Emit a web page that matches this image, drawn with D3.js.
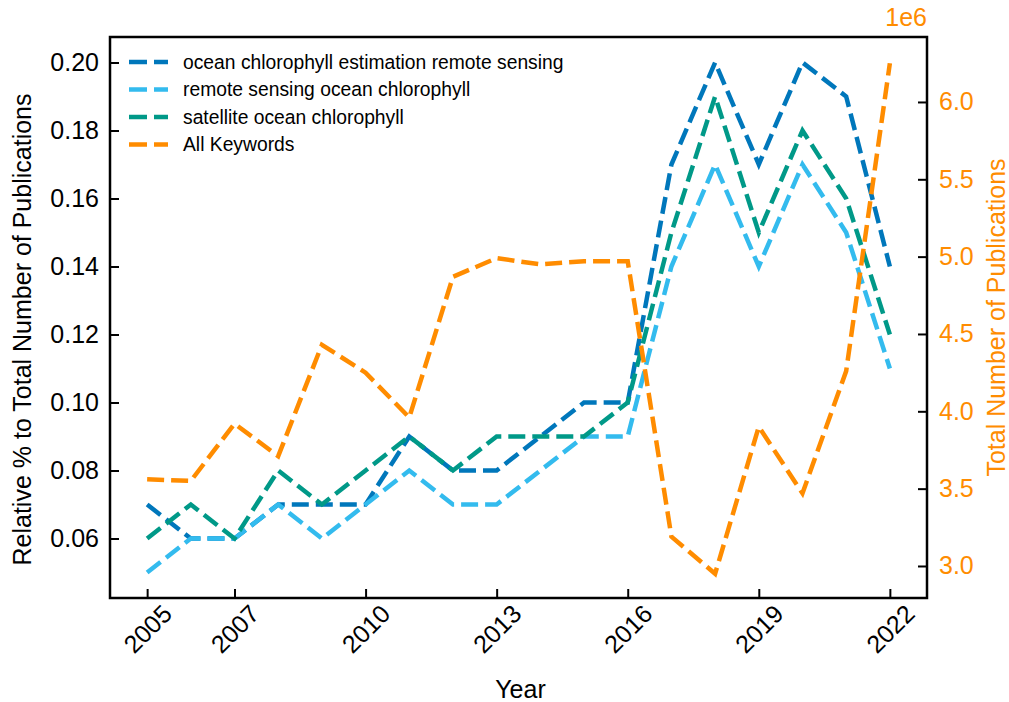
<!DOCTYPE html>
<html><head><meta charset="utf-8">
<script src="https://cdn.jsdelivr.net/npm/d3@7"></script>
<style>body{margin:0;background:#fff}svg{display:block}text{font-family:"Liberation Sans",Arial,sans-serif}</style>
</head><body><svg id="c" width="1009" height="702"></svg>
<script>
const years = [2005,2006,2007,2008,2009,2010,2011,2012,2013,2014,2015,2016,2017,2018,2019,2020,2021,2022];
const oceanChlEstRS = [0.07,0.06,0.06,0.07,0.07,0.07,0.09,0.08,0.08,0.09,0.10,0.10,0.17,0.20,0.17,0.20,0.19,0.14];
const rsOceanChl   = [0.05,0.06,0.06,0.07,0.06,0.07,0.08,0.07,0.07,0.08,0.09,0.09,0.14,0.17,0.14,0.17,0.15,0.11];
const satOceanChl  = [0.06,0.07,0.06,0.08,0.07,0.08,0.09,0.08,0.09,0.09,0.09,0.10,0.15,0.19,0.15,0.18,0.16,0.12];
const allKeywords  = [3.56,3.55,3.92,3.71,4.43,4.25,3.96,4.87,4.99,4.95,4.97,4.97,3.19,2.95,3.90,3.47,4.26,6.25]; // millions
const seriesNames = ["ocean chlorophyll estimation remote sensing","remote sensing ocean chlorophyll","satellite ocean chlorophyll","All Keywords"];
const colors = ["#0077BB","#33BBEE","#009988","#FF8C00"];
const xTicks = [2005,2007,2010,2013,2016,2019,2022];
const yLeftTicks = [0.06,0.08,0.10,0.12,0.14,0.16,0.18,0.20];
const yRightTicks = [3.0,3.5,4.0,4.5,5.0,5.5,6.0];

const L=110,R=927,T=37,B=598;
const svg=d3.select("#c");
const x=d3.scaleLinear().domain([2004.15,2022.85]).range([L,R]);
const yL=d3.scaleLinear().domain([0.0425,0.2075]).range([B,T]);
const yR=d3.scaleLinear().domain([2.793,6.42]).range([B,T]);

const dash="17,7", lw=4.5;
const lineL=d3.line().x((d,i)=>x(years[i])).y(d=>yL(d));
const lineR=d3.line().x((d,i)=>x(years[i])).y(d=>yR(d));
[oceanChlEstRS,rsOceanChl,satOceanChl].forEach((s,k)=>{
  svg.append("path").attr("d",lineL(s)).attr("fill","none").attr("stroke",colors[k])
    .attr("stroke-width",lw).attr("stroke-dasharray",dash);
});
svg.append("path").attr("d",lineR(allKeywords)).attr("fill","none").attr("stroke",colors[3])
  .attr("stroke-width",lw).attr("stroke-dasharray",dash);

// frame
svg.append("rect").attr("x",L).attr("y",T).attr("width",R-L).attr("height",B-T)
  .attr("fill","none").attr("stroke","#000").attr("stroke-width",2.5);

// axes (ticks inward)
const fs=25;
const gl=svg.append("g").attr("transform",`translate(${L},0)`)
  .call(d3.axisRight(yL).tickValues(yLeftTicks).tickFormat(d3.format(".2f")).tickSize(9).tickPadding(0));
gl.select(".domain").remove();
gl.selectAll(".tick line").attr("stroke","#000").attr("stroke-width",2);
gl.selectAll(".tick text").attr("x",-11).attr("text-anchor","end").attr("font-size",fs).attr("fill","#000");

const gr=svg.append("g").attr("transform",`translate(${R},0)`)
  .call(d3.axisLeft(yR).tickValues(yRightTicks).tickFormat(d3.format(".1f")).tickSize(9));
gr.select(".domain").remove();
gr.selectAll(".tick line").attr("stroke","#000").attr("stroke-width",2);
gr.selectAll(".tick text").attr("x",12).attr("text-anchor","start").attr("font-size",fs).attr("fill",colors[3]);

const gx=svg.append("g").attr("transform",`translate(0,${B})`)
  .call(d3.axisTop(x).tickValues(xTicks).tickFormat(d3.format("d")).tickSize(9));
gx.select(".domain").remove();
gx.selectAll(".tick line").attr("stroke","#000").attr("stroke-width",2);
gx.selectAll(".tick text").attr("y",0).attr("font-size",fs).attr("fill","#000")
  .attr("text-anchor","middle").attr("dy","0.35em")
  .attr("transform","translate(0,31) rotate(-45)");

// labels
svg.append("text").attr("x",(L+R)/2+2).attr("y",698).attr("text-anchor","middle").attr("font-size",fs).text("Year");
svg.append("text").attr("transform",`translate(31,${(T+B)/2+12}) rotate(-90)`).attr("text-anchor","middle")
  .attr("font-size",fs).text("Relative % to Total Number of Publications");
svg.append("text").attr("transform",`translate(1005,${(T+B)/2}) rotate(-90)`).attr("text-anchor","middle")
  .attr("font-size",fs).attr("fill",colors[3]).text("Total Number of Publications");
svg.append("text").attr("x",R).attr("y",26).attr("text-anchor","end").attr("font-size",fs)
  .attr("fill",colors[3]).text("1e6");

// legend
seriesNames.forEach((n,i)=>{
  const yy=62+i*27.5;
  svg.append("line").attr("x1",129).attr("x2",168).attr("y1",yy).attr("y2",yy)
    .attr("stroke",colors[i]).attr("stroke-width",lw).attr("stroke-dasharray","18,7");
  svg.append("text").attr("x",183).attr("y",yy).attr("dy","0.35em").attr("font-size",19.3).text(n);
});
</script></body></html>
